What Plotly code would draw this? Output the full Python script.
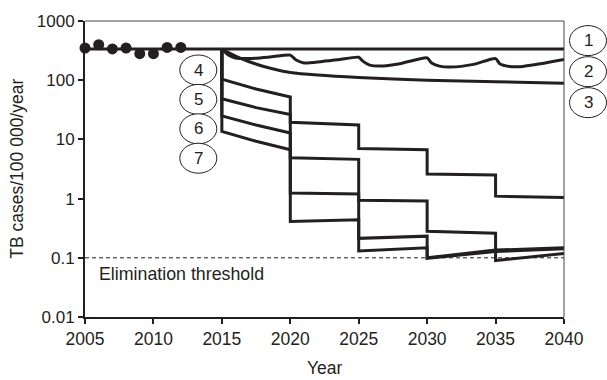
import plotly.graph_objects as go

# Observed notification rates, 2005-2012
obs_years = [2005, 2006, 2007, 2008, 2009, 2010, 2011, 2012]
obs_cases = [350, 397, 337, 350, 281, 281, 358, 358]

# Scenario 1: status quo
years_1 = [2005, 2040]
cases_1 = [335, 335]

# Scenario 2: periodic intervention with rebound
years_2 = [2015, 2015.5, 2016, 2017, 2018.5, 2020, 2020.4, 2021, 2022.2, 2023.6, 2025,
           2025.3, 2025.8, 2026.6, 2028, 2030, 2030.3, 2030.9, 2031.7, 2033.4, 2035,
           2035.3, 2036, 2036.8, 2038.3, 2040]
cases_2 = [335, 265, 238, 232, 246, 265, 222, 196, 205, 224, 244,
           210, 180, 173, 190, 239, 197, 173, 167, 185, 232,
           190, 171, 169, 190, 224]

# Scenario 3: gradual decline
years_3 = [2015, 2016, 2017, 2018, 2019, 2020, 2022, 2025, 2030, 2035, 2040]
cases_3 = [335, 255, 205, 172, 150, 135, 122, 111, 100, 94, 89]

# Scenarios 4-7: stepwise reductions every five years
years_4 = [2015, 2015, 2017.5, 2020, 2020, 2025, 2025, 2030, 2030, 2035, 2035, 2040]
cases_4 = [335, 104, 71, 52, 19.5, 17.5, 7.0, 6.7, 2.6, 2.5, 1.1, 1.04]

years_5 = [2015, 2015, 2017.5, 2020, 2020, 2025, 2025, 2030, 2030, 2035, 2035, 2040]
cases_5 = [335, 48.6, 34.4, 26.4, 4.9, 4.6, 0.94, 0.91, 0.28, 0.26, 0.09, 0.118]

years_6 = [2015, 2015, 2017.5, 2020, 2020, 2025, 2025, 2030, 2030, 2035, 2040]
cases_6 = [335, 25, 17.5, 12.8, 1.24, 1.2, 0.213, 0.232, 0.1, 0.135, 0.148]

years_7 = [2015, 2015, 2017.5, 2020, 2020, 2025, 2025, 2030, 2030, 2035, 2040]
cases_7 = [335, 13.6, 9.3, 6.7, 0.41, 0.44, 0.13, 0.148, 0.098, 0.128, 0.142]

threshold = 0.1

y_tick_vals = [0.01, 0.1, 1, 10, 100, 1000]
y_tick_text = ["0.01", "0.1", "1", "10", "100", "1000"]
x_tick_vals = [2005, 2010, 2015, 2020, 2025, 2030, 2035, 2040]

INK = "#231f20"
FONT = "Liberation Sans, Arial, sans-serif"

fig = go.Figure()

# elimination threshold
fig.add_trace(go.Scatter(x=[2005, 2040], y=[threshold, threshold], mode="lines",
                         line=dict(color=INK, width=1, dash="4px,3px"),
                         hoverinfo="skip", showlegend=False))

line_style = dict(color=INK, width=3)
for xs, ys, shape in [
    (years_7, cases_7, "linear"),
    (years_6, cases_6, "linear"),
    (years_5, cases_5, "linear"),
    (years_4, cases_4, "linear"),
    (years_3, cases_3, "spline"),
    (years_2, cases_2, "spline"),
    (years_1, cases_1, "linear"),
]:
    fig.add_trace(go.Scatter(x=xs, y=ys, mode="lines",
                             line=dict(line_style, shape=shape, smoothing=0.6),
                             showlegend=False))

fig.add_trace(go.Scatter(x=obs_years, y=obs_cases, mode="markers",
                         marker=dict(color=INK, size=11),
                         cliponaxis=False, showlegend=False))

# numbered scenario markers (pixel-sized ellipses)
PLOT_L, PLOT_R, PLOT_T, PLOT_B = 85, 564, 15, 317
W, H = PLOT_R - PLOT_L, PLOT_B - PLOT_T


def px_to_paper(px, py):
    return (px - PLOT_L) / W, (PLOT_B - py) / H


scenario_labels = [("1", 588, 35), ("2", 588, 66.7), ("3", 588, 98.3),
                   ("4", 198.3, 65), ("5", 198.3, 95), ("6", 198.3, 125), ("7", 198.3, 155)]
shapes = []
annotations = []
for text, px, py in scenario_labels:
    xp, yp = px_to_paper(px, py)
    shapes.append(dict(type="circle", xref="paper", yref="paper",
                       xsizemode="pixel", ysizemode="pixel",
                       xanchor=xp, yanchor=yp, x0=-18.5, x1=18.5, y0=-15, y1=15,
                       line=dict(color=INK, width=1), fillcolor="white", layer="above"))
    annotations.append(dict(text=text, xref="paper", yref="paper", x=xp, y=yp,
                            showarrow=False, font=dict(size=17, color=INK, family=FONT),
                            xanchor="center", yanchor="middle"))

# thin top and right frame
shapes.append(dict(type="line", xref="paper", yref="paper", x0=0, x1=1, y0=1, y1=1,
                   line=dict(color="#444", width=1)))
shapes.append(dict(type="line", xref="paper", yref="paper", x0=1, x1=1, y0=0, y1=1,
                   line=dict(color="#444", width=1)))

annotations.append(dict(text="Elimination threshold", x=2005.85, y=-1.282, xref="x", yref="y",
                        showarrow=False, xanchor="left", yanchor="middle",
                        font=dict(size=17.8, color=INK, family=FONT)))
xp, yp = px_to_paper(16.7, 166)
annotations.append(dict(text="TB cases/100 000/year", xref="paper", yref="paper", x=xp, y=yp,
                        textangle=-90, showarrow=False, xanchor="center", yanchor="middle",
                        font=dict(size=17.5, color=INK, family=FONT)))
xp, yp = px_to_paper(324.5, 369)
annotations.append(dict(text="Year", xref="paper", yref="paper", x=xp, y=yp,
                        showarrow=False, xanchor="center", yanchor="middle",
                        font=dict(size=17.5, color=INK, family=FONT)))

fig.update_layout(
    width=607, height=380,
    margin=dict(l=PLOT_L, r=607 - PLOT_R, t=PLOT_T, b=380 - PLOT_B, pad=0),
    paper_bgcolor="white", plot_bgcolor="white",
    font=dict(family=FONT, size=17, color=INK),
    shapes=shapes, annotations=annotations,
    xaxis=dict(range=[2005, 2040], tickvals=x_tick_vals, showgrid=False, zeroline=False,
               showline=True, linecolor=INK, linewidth=2, ticks="outside", ticklen=5,
               tickwidth=1.5, tickcolor=INK, tickfont=dict(size=17.5)),
    yaxis=dict(type="log", range=[-2, 3], tickvals=y_tick_vals, ticktext=y_tick_text,
               showgrid=False, zeroline=False, showline=True, linecolor=INK, linewidth=2,
               ticks="outside", ticklen=5, tickwidth=1.5, tickcolor=INK,
               tickfont=dict(size=17)),
)

fig.write_html("out.html")
